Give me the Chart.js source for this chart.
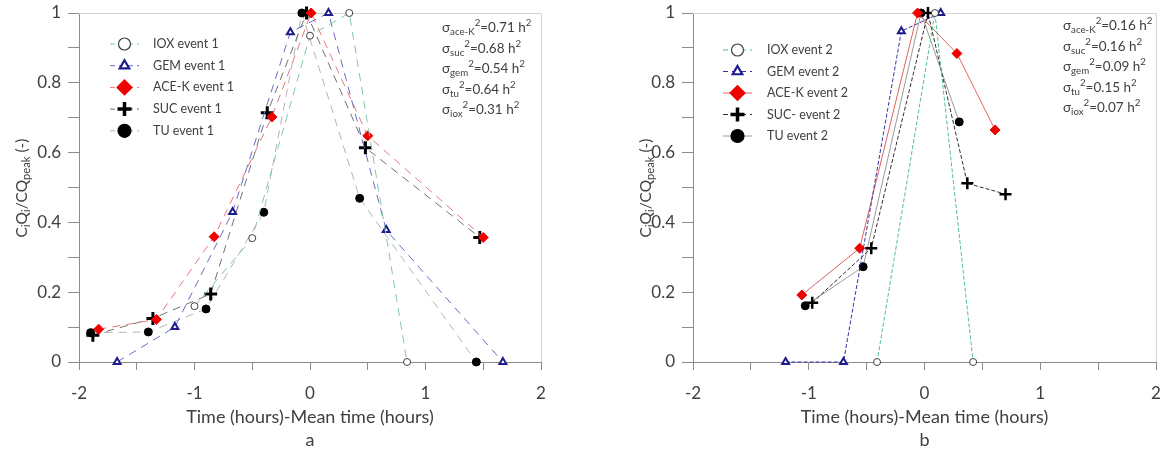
<!DOCTYPE html>
<html>
<head>
<meta charset="utf-8">
<script src="https://cdn.jsdelivr.net/npm/chart.js@4.4.0/dist/chart.umd.min.js"></script>
<style>
  html, body { margin: 0; padding: 0; background: #fff; }
  #wrap { position: relative; width: 1167px; height: 454px; }
  canvas { position: absolute; top: 0; }
</style>
</head>
<body>
<div id="wrap">
  <canvas id="chartA" style="left:0;width:600px;height:454px"></canvas>
  <canvas id="chartB" style="left:600px;width:567px;height:454px"></canvas>
</div>
<script>
// event 1 (panel a) - time minus mean time (h), normalised load
var ioxE1X = [-1.0, -0.5, 0.0, 0.34, 0.84];
var ioxE1Y = [0.16, 0.355, 0.935, 1.0, 0];
var gemE1X = [-1.67, -1.17, -0.67, -0.17, 0.16, 0.66, 1.67];
var gemE1Y = [0, 0.10, 0.43, 0.945, 1.0, 0.378, 0];
var aceE1X = [-1.83, -1.33, -0.83, -0.33, 0.01, 0.5, 1.5];
var aceE1Y = [0.094, 0.122, 0.359, 0.702, 1.0, 0.648, 0.357];
var sucE1X = [-1.88, -1.36, -0.86, -0.37, -0.03, 0.48, 1.47];
var sucE1Y = [0.077, 0.125, 0.195, 0.714, 1.0, 0.614, 0.357];
var tuE1X = [-1.9, -1.4, -0.9, -0.4, -0.07, 0.43, 1.44];
var tuE1Y = [0.084, 0.086, 0.152, 0.429, 1.0, 0.469, 0];

// event 2 (panel b)
var ioxE2X = [-0.41, 0.09, 0.42];
var ioxE2Y = [0, 1.0, 0];
var gemE2X = [-1.2, -0.7, -0.2, 0.14];
var gemE2Y = [0, 0, 0.948, 1.0];
var aceE2X = [-1.06, -0.56, -0.06, 0.28, 0.61];
var aceE2Y = [0.192, 0.326, 1.0, 0.884, 0.665];
var sucE2X = [-0.97, -0.46, 0.03, 0.37, 0.70];
var sucE2Y = [0.17, 0.326, 1.0, 0.512, 0.481];
var tuE2X = [-1.03, -0.53, -0.03, 0.30];
var tuE2Y = [0.161, 0.273, 1.0, 0.688];

var namesE1 = ['IOX event 1', 'GEM event 1', 'ACE-K event 1', 'SUC event 1', 'TU event 1'];
var namesE2 = ['IOX event 2', 'GEM event 2', 'ACE-K event 2', 'SUC- event 2', 'TU event 2'];

// temporal variances shown in the corner
var varNames = ['ace-K', 'suc', 'gem', 'tu', 'iox'];
var varE1 = ['0.71', '0.68', '0.54', '0.64', '0.31'];
var varE2 = ['0.16', '0.16', '0.09', '0.15', '0.07'];

var xTickLabels = [-2, -1, 0, 1, 2];
var yTickLabels = [0, 0.2, 0.4, 0.6, 0.8, 1];
var xTitle = 'Time (hours)-Mean time (hours)';

var FONT = "Lato, 'Open Sans', sans-serif";
var TXT = '#404040';
var AXIS = '#8c8c8c';

Chart.defaults.font.family = FONT;
Chart.defaults.color = TXT;

function pts(xs, ys) {
  return xs.map(function (x, i) { return { x: x, y: ys[i] }; });
}

// marker / line styles, one per series (IOX, GEM, ACE-K, SUC, TU)
var stylesA = [
  { line: '#80c8a4', dash: [8, 6], shape: 'circle', r: 3.5, lr: 6, edge: '#404040', fill: '#fff', bw: 1 },
  { line: '#6a6ac8', dash: [8, 6], shape: 'triangle', r: 4, lr: 5.5, edge: '#1c1c8c', fill: '#fff', bw: 2 },
  { line: '#e47878', dash: [8, 6], shape: 'rectRot', r: 5, lr: 7.5, edge: '#f00000', fill: '#f00000', bw: 1 },
  { line: '#707070', dash: [8, 6], shape: 'cross', r: 6.5, lr: 7, edge: '#000', fill: '#000', bw: 3 },
  { line: '#b4b4b4', dash: [8, 6], shape: 'circle', r: 4, lr: 6.5, edge: '#000', fill: '#000', bw: 1 }
];
var stylesB = [
  { line: '#50c08c', dash: [4, 2], shape: 'circle', r: 3.5, lr: 6, edge: '#404040', fill: '#fff', bw: 1 },
  { line: '#3434a8', dash: [4, 2], shape: 'triangle', r: 4, lr: 5.5, edge: '#1c1c8c', fill: '#fff', bw: 2 },
  { line: '#e06060', dash: [], shape: 'rectRot', r: 5, lr: 7.5, edge: '#f00000', fill: '#f00000', bw: 1 },
  { line: '#303030', dash: [4, 2], shape: 'cross', r: 6, lr: 7, edge: '#000', fill: '#000', bw: 2.5 },
  { line: '#9a9a9a', dash: [], shape: 'circle', r: 4, lr: 6.5, edge: '#000', fill: '#000', bw: 1 }
];

function makeSet(label, xs, ys, st) {
  return {
    label: label,
    data: pts(xs, ys),
    showLine: true,
    clip: false,
    borderColor: st.line,
    borderWidth: 1,
    borderDash: st.dash,
    pointStyle: st.shape,
    pointRadius: st.r,
    pointBorderColor: st.edge,
    pointBackgroundColor: st.fill,
    pointBorderWidth: st.bw,
    legendStyle: st
  };
}

// draws text with sub/superscript pieces, returns end x
function richText(ctx, parts, x, y, size, measureOnly) {
  parts.forEach(function (p) {
    var s = size, dy = 0;
    if (p[1] === 'sub') { s = size * 0.72; dy = size * 0.3; }
    if (p[1] === 'sup') { s = size * 0.72; dy = -size * 0.35; }
    ctx.font = s + 'px ' + FONT;
    if (!measureOnly) ctx.fillText(p[0], x, y + dy);
    x += ctx.measureText(p[0]).width;
  });
  return x;
}

var yTitleParts = [['C', 'n'], ['i', 'sub'], ['Q', 'n'], ['i', 'sub'], ['/CQ', 'n'], ['peak', 'sub'], [' (-)', 'n']];

var decor = {
  id: 'decor',
  beforeDatasetsDraw: function (chart) {
    var a = chart.chartArea, ctx = chart.ctx;
    ctx.save();
    ctx.strokeStyle = '#d4d4d4';
    ctx.lineWidth = 1;
    ctx.beginPath();
    ctx.moveTo(a.left, Math.round(a.top) + 0.5);
    ctx.lineTo(Math.round(a.right) + 0.5, Math.round(a.top) + 0.5);
    ctx.lineTo(Math.round(a.right) + 0.5, a.bottom);
    ctx.stroke();
    ctx.restore();
  },
  afterDraw: function (chart, args, o) {
    var ctx = chart.ctx;
    ctx.save();
    // legend
    chart.data.datasets.forEach(function (ds, i) {
      var st = ds.legendStyle;
      var y = o.legY + i * o.legDy;
      ctx.strokeStyle = st.line;
      ctx.lineWidth = 1;
      ctx.setLineDash(st.dash.length ? [5, 4] : []);
      ctx.beginPath();
      ctx.moveTo(o.legX0, y);
      ctx.lineTo(o.legX1, y);
      ctx.stroke();
      ctx.setLineDash([]);
      ctx.fillStyle = st.fill;
      ctx.strokeStyle = st.edge;
      ctx.lineWidth = st.shape === 'cross' ? 3.5 : (st.shape === 'triangle' ? 2.2 : 1.2);
      Chart.helpers.drawPoint(ctx, { pointStyle: st.shape, radius: st.lr, borderWidth: ctx.lineWidth, rotation: 0 },
        (o.legX0 + o.legX1) / 2, y);
      ctx.fillStyle = TXT;
      ctx.textBaseline = 'middle';
      ctx.textAlign = 'left';
      ctx.font = '12.5px ' + FONT;
      ctx.fillText(ds.label, o.legText, y);
    });
    // variance notes
    ctx.fillStyle = TXT;
    ctx.textBaseline = 'middle';
    ctx.textAlign = 'left';
    varNames.forEach(function (n, i) {
      richText(ctx, [['\u03c3', 'n'], [n, 'sub'], ['2', 'sup'], ['=' + o.vars[i] + ' h', 'n'], ['2', 'sup']],
        o.varX, o.varY + i * o.varDy, 13.5);
    });
    // y axis title
    ctx.save();
    ctx.translate(o.yTitleX, o.yTitleY);
    ctx.rotate(-Math.PI / 2);
    var w = richText(ctx, yTitleParts, 0, 0, 15.5, true);
    richText(ctx, yTitleParts, -w / 2, 0, 15.5);
    ctx.restore();
    // panel letter
    ctx.textAlign = 'center';
    ctx.font = '18px ' + FONT;
    ctx.fillText(o.letter, (chart.chartArea.left + chart.chartArea.right) / 2, o.letterY);
    ctx.restore();
  }
};

function makeChart(id, sets, yWidth, padRight, opts) {
  return new Chart(document.getElementById(id), {
    type: 'scatter',
    data: { datasets: sets },
    plugins: [decor],
    options: {
      responsive: false,
      animation: false,
      layout: { padding: { left: 0, top: 13, right: padRight, bottom: 26 } },
      plugins: { legend: { display: false }, tooltip: { enabled: false }, decor: opts },
      scales: {
        x: {
          type: 'linear', min: -2, max: 2,
          afterFit: function (s) { s.height = 66; s.paddingLeft = 0; s.paddingRight = 0; },
          border: { color: AXIS },
          grid: { drawOnChartArea: false, tickLength: 8, color: AXIS },
          ticks: {
            stepSize: 0.5, autoSkip: false, maxRotation: 0, padding: 13,
            font: { size: 17 }, color: TXT,
            callback: function (v) {
              return xTickLabels.some(function (t) { return Math.abs(t - v) < 1e-6; }) ? String(Math.round(v)) : '';
            }
          },
          title: { display: true, text: xTitle, font: { size: 18 }, color: TXT, padding: { top: 0, bottom: 0 } }
        },
        y: {
          type: 'linear', min: 0, max: 1,
          afterFit: function (s) { s.width = yWidth; s.paddingTop = 0; s.paddingBottom = 0; },
          border: { color: AXIS },
          grid: { drawOnChartArea: false, tickLength: 11, color: AXIS },
          ticks: {
            stepSize: 0.1, autoSkip: false, padding: 7,
            font: { size: 17 }, color: TXT,
            callback: function (v) {
              var hit = yTickLabels.filter(function (t) { return Math.abs(t - v) < 1e-6; });
              return hit.length ? String(hit[0]) : '';
            }
          }
        }
      }
    }
  });
}

var setsA = [
  makeSet(namesE1[0], ioxE1X, ioxE1Y, stylesA[0]),
  makeSet(namesE1[1], gemE1X, gemE1Y, stylesA[1]),
  makeSet(namesE1[2], aceE1X, aceE1Y, stylesA[2]),
  makeSet(namesE1[3], sucE1X, sucE1Y, stylesA[3]),
  makeSet(namesE1[4], tuE1X, tuE1Y, stylesA[4])
];
var setsB = [
  makeSet(namesE2[0], ioxE2X, ioxE2Y, stylesB[0]),
  makeSet(namesE2[1], gemE2X, gemE2Y, stylesB[1]),
  makeSet(namesE2[2], aceE2X, aceE2Y, stylesB[2]),
  makeSet(namesE2[3], sucE2X, sucE2Y, stylesB[3]),
  makeSet(namesE2[4], tuE2X, tuE2Y, stylesB[4])
];

document.getElementById('chartA').width = 600;
document.getElementById('chartA').height = 454;
document.getElementById('chartB').width = 567;
document.getElementById('chartB').height = 454;

makeChart('chartA', setsA, 79, 59, {
  legX0: 110, legX1: 139, legText: 153, legY: 44, legDy: 21.7,
  vars: varE1, varX: 442, varY: 28, varDy: 20.5,
  yTitleX: 22, yTitleY: 188, letter: 'a', letterY: 440
});
makeChart('chartB', setsB, 93, 11, {
  legX0: 123, legX1: 152, legText: 167, legY: 50, legDy: 21.5,
  vars: varE2, varX: 463, varY: 26, varDy: 20.5,
  yTitleX: 46, yTitleY: 188, letter: 'b', letterY: 440
});
</script>
</body>
</html>
